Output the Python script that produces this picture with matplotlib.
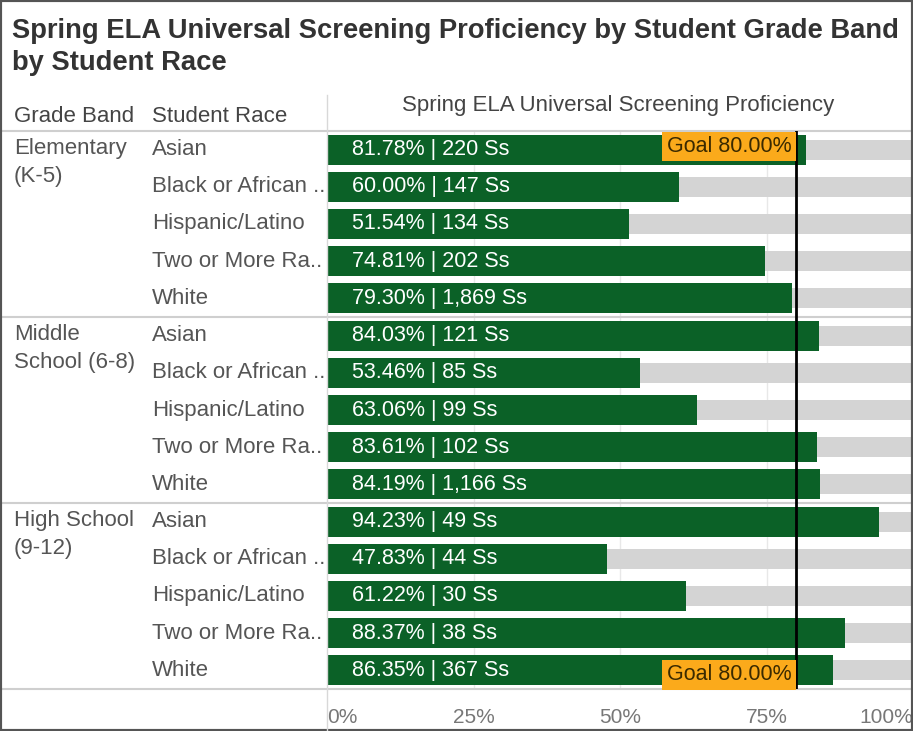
import matplotlib
matplotlib.use("Agg")
import matplotlib.pyplot as plt
from matplotlib.transforms import blended_transform_factory
from matplotlib.lines import Line2D
from matplotlib.patches import Rectangle

grade_bands = ["Elementary\n(K-5)", "Middle\nSchool (6-8)", "High School\n(9-12)"]
races = ["Asian", "Black or African ..", "Hispanic/Latino", "Two or More Ra..", "White"]
pct = [81.78, 60.00, 51.54, 74.81, 79.30,
       84.03, 53.46, 63.06, 83.61, 84.19,
       94.23, 47.83, 61.22, 88.37, 86.35]
students = ["220", "147", "134", "202", "1,869",
            "121", "85", "99", "102", "1,166",
            "49", "44", "30", "38", "367"]
goal = 80.0
ticks = [0, 25, 50, 75, 100]

font = ["Liberation Sans", "DejaVu Sans"]
green = "#0b6127"
grey_txt = "#555555"

fig = plt.figure(figsize=(9.13, 7.31), dpi=100)
W, H = 913, 731
top, bot = 131, 689
ax = fig.add_axes([327 / W, 1 - bot / H, 1 - 327 / W, (bot - top) / H])

n = len(pct)
rows = list(range(n))
ax.barh(rows, [100] * n, height=0.54, color="#d4d4d4", zorder=1)
ax.barh(rows, pct, height=0.81, color=green, zorder=2)
for t in ticks[1:-1]:
    ax.axvline(t, color="#e8e8e8", lw=1, zorder=0)
ax.axvline(goal, color="black", lw=2, zorder=4)

for i in rows:
    ax.text(4.3, i, f"{pct[i]:.2f}% | {students[i]} Ss", color="white",
            va="center", ha="left", fontsize=15.5, family=font, zorder=5)

# goal labels on first and last row
for yy, off in [(0, -0.08), (n - 1, 0.12)]:
    ax.text(goal - 0.75, yy + off, f"Goal {goal:.2f}%", color="#3a2a00", ha="right",
            va="center", fontsize=15.5, family=font, zorder=6,
            bbox=dict(boxstyle="square,pad=0.2", fc="#fbaa1b", ec="none"))

ax.set_xlim(0, 100)
ax.set_ylim(n - 0.5, -0.5)
ax.set_xticks(ticks)
ax.set_xticklabels([f"{t}%" for t in ticks], family=font, fontsize=15, color="#777777")
labs = ax.get_xticklabels()
labs[0].set_ha("left")
labs[-1].set_ha("right")
ax.tick_params(axis="x", length=0, pad=14)
ax.set_yticks([])
for s in ax.spines.values():
    s.set_visible(False)

tr = blended_transform_factory(fig.transFigure, ax.transData)
for i in rows:
    ax.text(152 / W, i, races[i % 5], transform=tr, va="center", ha="left",
            fontsize=16, family=font, color=grey_txt)
for g, name in enumerate(grade_bands):
    ax.text(14 / W, g * 5 - 0.3, name, transform=tr, va="top", ha="left",
            fontsize=16, family=font, color=grey_txt, linespacing=1.4)

# separators
for yy in [-0.5, 4.5, 9.5, 14.5]:
    ax.add_line(Line2D([0, 1], [yy, yy], transform=tr, color="#cfcfcf",
                       lw=1.5, clip_on=False, zorder=3))
fig.add_artist(Line2D([327 / W, 327 / W], [0, 1 - 95 / H], color="#d8d8d8", lw=1))

# headers
fig.text(14 / W, 1 - 117 / H, "Grade Band", fontsize=16, family=font,
         color="#444444", va="center")
fig.text(152 / W, 1 - 117 / H, "Student Race", fontsize=16, family=font,
         color="#444444", va="center")
fig.text(618 / W, 1 - 106 / H, "Spring ELA Universal Screening Proficiency",
         fontsize=16, family=font, color="#444444", va="center", ha="center")

fig.text(12 / W, 1 - 31 / H, "Spring ELA Universal Screening Proficiency by Student Grade Band",
         fontsize=19.7, fontweight="bold", family=font, color="#333333", va="center")
fig.text(12 / W, 1 - 63 / H, "by Student Race",
         fontsize=19.7, fontweight="bold", family=font, color="#333333", va="center")

fig.add_artist(Rectangle((0, 0), 1, 1, transform=fig.transFigure, fill=False,
                         ec="#555555", lw=3))

fig.savefig("out.png", dpi=100)
